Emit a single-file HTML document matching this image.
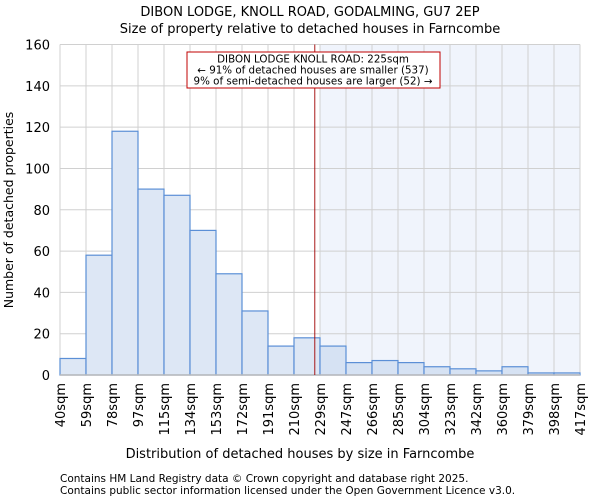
<!DOCTYPE html>
<html><head><meta charset="utf-8"><style>
body{margin:0;background:#fff;font-family:"DejaVu Sans","Liberation Sans",sans-serif;}
svg text{font-family:"DejaVu Sans","Liberation Sans",sans-serif;fill:#000;}
</style></head><body>
<svg id="c" width="600" height="500" viewBox="0 0 600 500" xmlns="http://www.w3.org/2000/svg">
<text x="310" y="16" font-size="13" text-anchor="middle">DIBON LODGE, KNOLL ROAD, GODALMING, GU7 2EP</text>
<text x="310" y="33" font-size="13" text-anchor="middle">Size of property relative to detached houses in Farncombe</text>
<g id="plot"></g>
<text x="300" y="458" font-size="13" text-anchor="middle">Distribution of detached houses by size in Farncombe</text>
<text transform="translate(13,210) rotate(-90)" font-size="12.5" text-anchor="middle">Number of detached properties</text>
<text x="60" y="482" font-size="10.5" fill="#333">Contains HM Land Registry data © Crown copyright and database right 2025.</text>
<text x="60" y="494" font-size="10.5" fill="#333">Contains public sector information licensed under the Open Government Licence v3.0.</text>
</svg>
<script>
const categories=["40sqm","59sqm","78sqm","97sqm","115sqm","134sqm","153sqm","172sqm","191sqm","210sqm","229sqm","247sqm","266sqm","285sqm","304sqm","323sqm","342sqm","360sqm","379sqm","398sqm","417sqm"];
const counts=[8,58,118,90,87,70,49,31,14,18,14,6,7,6,4,3,2,4,1,1];
const yTicks=[0,20,40,60,80,100,120,140,160];
const propertyBin=9.8;
const NS="http://www.w3.org/2000/svg";
const g=document.getElementById('plot');
const L=60,R=580,T=44.5,B=375,yMax=160;
const bw=(R-L)/counts.length;
const x=i=>L+i*bw;
const y=v=>B-v/yMax*(B-T);
function mk(t,a){const e=document.createElementNS(NS,t);for(const k in a)e.setAttribute(k,a[k]);g.appendChild(e);return e;}
const px=x(propertyBin);
let e=mk('rect',{x:x(10),y:T,width:R-x(10),height:B-T,fill:'#f0f4fc'});


for(let i=0;i<=counts.length;i++){e=mk('line',{x1:x(i),x2:x(i),y1:T,y2:B,stroke:'#d0d0d0','stroke-width':1});

}
yTicks.forEach(t=>{e=mk('line',{x1:L,x2:R,y1:y(t),y2:y(t),stroke:'#d0d0d0','stroke-width':1});


e=mk('text',{x:L-10,y:y(t)+5,'font-size':13,'text-anchor':'end'});e.textContent=t;

});
counts.forEach((v,i)=>{e=mk('rect',{x:x(i),y:y(v),width:bw,height:B-y(v),fill:i>=10?'#d6e2f3':'#dde7f5',stroke:'#5b8fd6','stroke-width':1.2});

});
e=mk('line',{x1:L,x2:R,y1:B,y2:B,stroke:'#bbb','stroke-width':1.5});


categories.forEach((c,i)=>{e=mk('text',{transform:`translate(${x(i)+5},${B+8}) rotate(-90)`,'font-size':13,'text-anchor':'end'});e.textContent=c;

});
e=mk('line',{x1:px,x2:px,y1:T,y2:B,stroke:'#a00000','stroke-width':0.9});


e=mk('rect',{x:187,y:52,width:253,height:36,fill:'#fff',stroke:'#c00000','stroke-width':1});


["DIBON LODGE KNOLL ROAD: 225sqm","← 91% of detached houses are smaller (537)","9% of semi-detached houses are larger (52) →"].forEach((s,k)=>{
e=mk('text',{x:313,y:62.5+k*11,'font-size':10.3,'text-anchor':'middle'});e.textContent=s;

});
</script>
</body></html>
